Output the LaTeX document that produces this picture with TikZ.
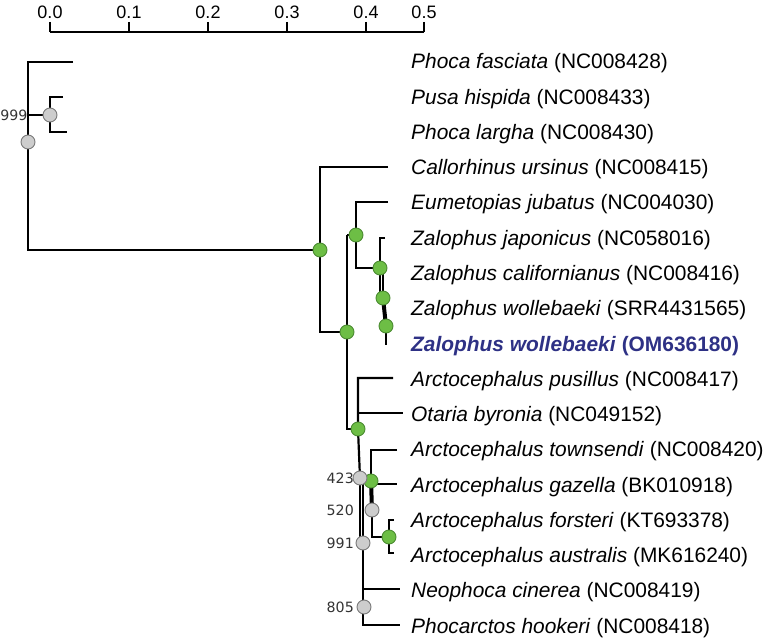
\documentclass[tikz,border=0pt]{standalone}
\usepackage{fontspec}
\setmainfont{Liberation Sans}
\newfontfamily\bootfont{DejaVu Sans}
\usetikzlibrary{positioning}

\definecolor{suppgreen}{HTML}{6DBE45}
\definecolor{suppedge}{HTML}{4C8C32}
\definecolor{bootgrey}{HTML}{CDCDCD}
\definecolor{bootedge}{HTML}{7A7A7A}
\definecolor{hilite}{HTML}{2E3185}

\tikzset{
	branch/.style={line width=2.2pt},
	heavy/.style={line width=4pt},
	suppnode/.style={circle, fill=suppgreen, draw=suppedge, line width=0.9pt, minimum size=14pt, inner sep=0pt},
	bootnode/.style={circle, fill=bootgrey, draw=bootedge, line width=0.9pt, minimum size=14pt, inner sep=0pt},
	bootlabel/.style={font=\bootfont\fontsize{14.2}{17}\selectfont, text=black!80, anchor=east, inner sep=0pt},
	taxon/.style={anchor=base west, inner sep=0pt, font=\fontsize{20.9}{24}\selectfont},
	ticklabel/.style={anchor=base, inner sep=0pt, font=\fontsize{18}{20}\selectfont}
}

\begin{document}
\begin{tikzpicture}[x=1pt, y=-1pt]
	\useasboundingbox (0,0) rectangle (768,639);

	% scale bar
	\draw[line width=1.4pt] (50,32) -- (424,32);
	\foreach \xx/\lab in {50/0.0, 129/0.1, 208/0.2, 287/0.3, 366/0.4, 424/0.5} {
		\draw[line width=1.4pt] (\xx,22) -- (\xx,32);
		\node[ticklabel] (tick\lab) at (\xx,19) {\lab};
	}

	% internal nodes and tips
	\coordinate (root) at (28,142);
	\coordinate (rtop) at (28,62);
	\coordinate (rbot) at (28,250);
	\coordinate (phoc) at (50,115);
	\coordinate (otar) at (320,250);
	\coordinate (core) at (347,332);
	\coordinate (eumt) at (356,235);
	\coordinate (zalo) at (380,268);
	\coordinate (zalb) at (383,298);
	\coordinate (zalc) at (386,326);
	\coordinate (arct) at (358,429);
	\coordinate (b423) at (360,478);
	\coordinate (gaze) at (371,481);
	\coordinate (b520) at (372,510);
	\coordinate (fors) at (389,537);
	\coordinate (b991) at (363,543);
	\coordinate (b805) at (364,607);

	\coordinate (tipPf) at (73,62);
	\coordinate (tipPh) at (63,97);
	\coordinate (tipPl) at (67,132);
	\coordinate (tipCu) at (388,167);
	\coordinate (tipEj) at (388,202);
	\coordinate (tipZj) at (385,238);
	\coordinate (tipZo) at (386,345);
	\coordinate (tipAp) at (393,378);
	\coordinate (tipOb) at (403,413);
	\coordinate (tipAt) at (397,450);
	\coordinate (tipAg) at (397,484);
	\coordinate (tipAf) at (394,520);
	\coordinate (tipAa) at (394,553);
	\coordinate (tipNc) at (400,589);
	\coordinate (tipPk) at (400,625);

	% branches
	\draw[branch] (tipPf) -| (rbot) -- (otar);
	\draw[branch] (root |- phoc) -- (phoc);
	\draw[branch] (tipPh) -| (phoc) |- (tipPl);
	\draw[branch] (tipCu) -| (otar) |- (core);
	\draw[branch] (eumt -| core) -- (eumt);
	\draw[branch] (eumt -| core) -- (core) |- (arct);
	\draw[branch] (tipEj) -| (eumt) |- (zalo);
	\draw[branch] (tipZj) -| (zalo) -- (zalo |- zalb);
	\draw[branch] (zalb |- zalo) -- (zalb);
	\draw[heavy] (zalb) -- (zalc);
	\draw[branch] (zalc) -- (tipZo);
	\draw[branch] (tipAp) -| (arct) -- (b423);
	\draw[branch] (arct |- tipOb) -- (tipOb);
	\draw[branch] (b423) -- (b423 |- b991);
	\draw[branch] (b423 -| b991) -- (b991) -- (b991 |- tipPk) -- (tipPk);
	\draw[branch] (b991 |- tipNc) -- (tipNc);
	\draw[branch] (b423) -- (gaze);
	\draw[branch] (tipAt) -| (gaze);
	\draw[heavy] (gaze) -- (b520);
	\draw[branch] (gaze |- tipAg) -- (tipAg);
	\draw[branch] (b520) |- (fors);
	\draw[branch] (tipAf) -| (fors) |- (tipAa);

	% node markers
	\node[bootnode] (m999) at (phoc) {};
	\node[bootlabel] (l999) at (27.6,115) {999};
	\node[bootnode] (mroot) at (root) {};
	\foreach \nn in {otar, core, eumt, zalo, zalb, zalc, arct, gaze, fors}
		\node[suppnode] (m\nn) at (\nn) {};
	\node[bootnode] (m423) at (b423) {};
	\node[bootlabel] (l423) at (354,478) {423};
	\node[bootnode] (m520) at (b520) {};
	\node[bootlabel] (l520) at (354,510) {520};
	\node[bootnode] (m991) at (b991) {};
	\node[bootlabel] (l991) at (354,543) {991};
	\node[bootnode] (m805) at (b805) {};
	\node[bootlabel] (l805) at (354,607) {805};

	% taxa
	\foreach \sp/\acc [count=\i from 0] in {
		Phoca fasciata/NC008428, Pusa hispida/NC008433, Phoca largha/NC008430,
		Callorhinus ursinus/NC008415, Eumetopias jubatus/NC004030,
		Zalophus japonicus/NC058016, Zalophus californianus/NC008416,
		Zalophus wollebaeki/SRR4431565} {
		\node[taxon] (taxon\i) at (411,{69+35.25*\i}) {\textit{\sp} (\acc)};
	}
	\node[taxon, text=hilite, font=\fontsize{20.9}{24}\selectfont\bfseries] (taxon8) at (411,{69+35.25*8}) {\textit{Zalophus wollebaeki} (OM636180)};
	\foreach \sp/\acc [count=\i from 9] in {
		Arctocephalus pusillus/NC008417, Otaria byronia/NC049152,
		Arctocephalus townsendi/NC008420, Arctocephalus gazella/BK010918,
		Arctocephalus forsteri/KT693378, Arctocephalus australis/MK616240,
		Neophoca cinerea/NC008419, Phocarctos hookeri/NC008418} {
		\node[taxon] (taxon\i) at (411,{69+35.25*\i}) {\textit{\sp} (\acc)};
	}
\end{tikzpicture}
\end{document}
